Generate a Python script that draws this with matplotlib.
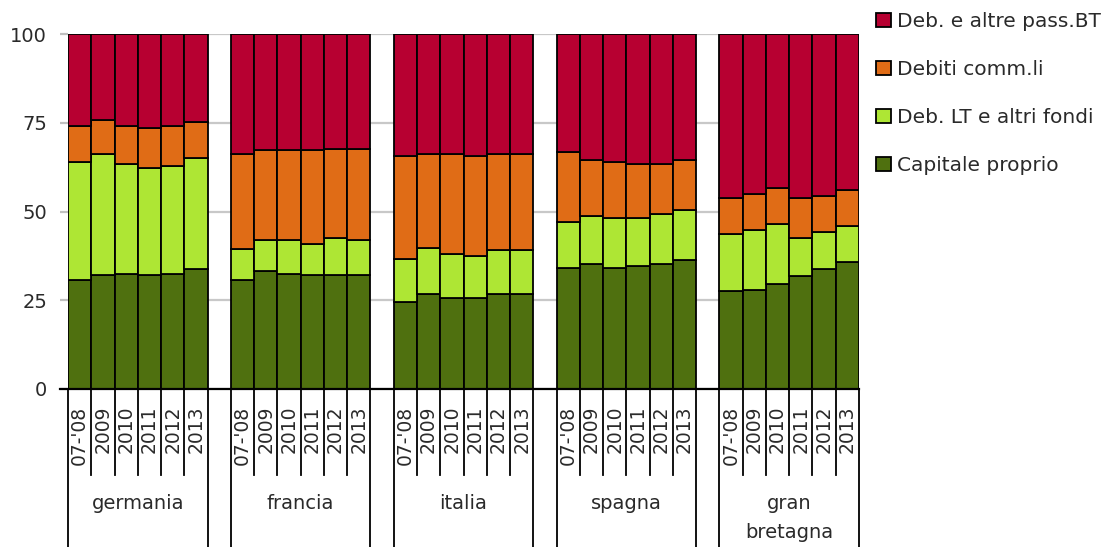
import matplotlib
matplotlib.use("Agg")
import matplotlib.pyplot as plt
import matplotlib.transforms as mtransforms
from matplotlib.lines import Line2D
from matplotlib.patches import Patch
import numpy as np

plt.rcParams['font.family'] = ['DejaVu Sans']

countries = ["germania", "francia", "italia", "spagna", "gran\nbretagna"]
years = ["07-'08", "2009", "2010", "2011", "2012", "2013"]

# Composizione del passivo (%), 6 periodi per paese
capitale_proprio = [30.8, 32.0, 32.4, 32.0, 32.4, 33.7,
                    30.8, 33.1, 32.4, 32.0, 32.0, 32.0,
                    24.5, 26.8, 25.7, 25.7, 26.8, 26.8,
                    34.2, 35.3, 34.2, 34.7, 35.3, 36.4,
                    27.5, 27.9, 29.7, 31.9, 33.7, 35.9]
deb_lt_fondi = [33.1, 34.1, 31.0, 30.2, 30.3, 31.4,
                8.5, 8.8, 9.5, 8.9, 10.4, 9.9,
                12.0, 12.9, 12.4, 11.9, 12.4, 12.4,
                12.9, 13.4, 13.9, 13.4, 14.0, 14.0,
                16.1, 17.0, 16.8, 10.7, 10.6, 9.9]
debiti_comm = [10.1, 9.6, 10.6, 11.2, 11.3, 10.1,
               26.9, 25.3, 25.3, 26.3, 25.3, 25.8,
               29.2, 26.4, 28.0, 28.1, 26.9, 26.9,
               19.6, 15.8, 15.8, 15.3, 14.1, 14.1,
               10.2, 10.1, 10.1, 11.2, 10.0, 10.2]
deb_bt = [26.0, 24.3, 26.0, 26.6, 26.0, 24.8,
          33.8, 32.8, 32.8, 32.8, 32.3, 32.3,
          34.3, 33.9, 33.9, 34.3, 33.9, 33.9,
          33.3, 35.5, 36.1, 36.6, 36.6, 35.5,
          46.2, 45.0, 43.4, 46.2, 45.7, 44.0]

series = [
    ("Capitale proprio", capitale_proprio, "#4f700f"),
    ("Deb. LT e altri fondi", deb_lt_fondi, "#aee634"),
    ("Debiti comm.li", debiti_comm, "#e06c16"),
    ("Deb. e altre pass.BT", deb_bt, "#b70031"),
]

n_years = len(years)
slot = n_years + 1
x = np.array([g * slot + i for g in range(len(countries)) for i in range(n_years)], dtype=float)

fig = plt.figure(figsize=(11.06, 5.47), dpi=100)
ax = fig.add_axes([68 / 1106, 1 - 389 / 547, 791 / 1106, 355 / 547])

text_color = "#2a2a2a"

bottom = np.zeros(len(x))
for label, vals, color in series:
    vals = np.asarray(vals)
    ax.bar(x, vals, width=1.0, bottom=bottom, align="edge", color=color,
           edgecolor="black", linewidth=1.3, label=label, zorder=3)
    bottom += vals

ax.set_xlim(0, len(countries) * slot - 1)
ax.set_ylim(0, 100)
ax.set_yticks([0, 25, 50, 75, 100])
ax.yaxis.grid(True, color="#c8c8c8", linewidth=1.6, zorder=0)
ax.set_axisbelow(True)
for side in ["left", "right", "top", "bottom"]:
    ax.spines[side].set_visible(False)
ax.tick_params(axis="y", length=6, width=1.6, color="#c0c0c0", pad=9,
               labelsize=14, labelcolor=text_color)

# year labels under each bar
ax.set_xticks(x + 0.5)
ax.set_xticklabels(years * len(countries), rotation=90, fontsize=13.5,
                   color=text_color)
ax.tick_params(axis="x", length=0, pad=12)

# baseline, extended to the left like a tick
ax.add_line(Line2D([-8 / 791, 1], [0, 0], transform=ax.transAxes, color="black",
                   linewidth=1.6, clip_on=False, zorder=5))

trans = mtransforms.blended_transform_factory(ax.transData, ax.transAxes)
y_short = -(475 - 389) / 355
y_long = -(547 - 389) / 355 - 0.02
for g, name in enumerate(countries):
    x0 = g * slot
    for i in range(n_years + 1):
        y_end = y_long if i in (0, n_years) else y_short
        ax.add_line(Line2D([x0 + i, x0 + i], [0, y_end], transform=trans,
                           color="black", linewidth=1.3, clip_on=False))
    ax.text(x0 + n_years / 2, -(494 - 389) / 355, name, transform=trans,
            ha="center", va="top", fontsize=14, color=text_color,
            linespacing=1.65)

handles = [Patch(facecolor=c, edgecolor="black", linewidth=1.3, label=l)
           for l, _, c in series[::-1]]
fig.legend(handles=handles, loc="upper left",
           bbox_to_anchor=(876 / 1106, 1 - 12 / 547), frameon=False,
           fontsize=14.5, labelcolor=text_color, handlelength=0.75,
           handleheight=0.75, handletextpad=0.3, labelspacing=1.44,
           borderpad=0, borderaxespad=0)

fig.savefig("out.png", dpi=100)
